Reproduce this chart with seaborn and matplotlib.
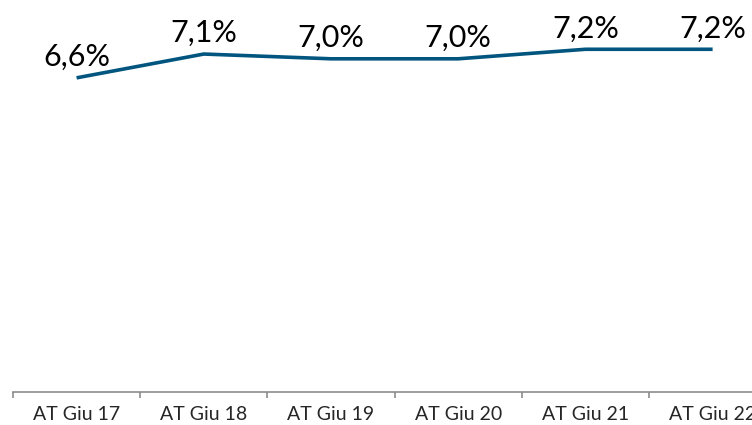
import matplotlib
matplotlib.use("Agg")
import matplotlib.pyplot as plt
import seaborn as sns
import pandas as pd

# Quarterly series
periods = ["AT Giu 17", "AT Giu 18", "AT Giu 19", "AT Giu 20", "AT Giu 21", "AT Giu 22"]
values = [6.6, 7.1, 7.0, 7.0, 7.2, 7.2]

df = pd.DataFrame({"period": periods, "value": values})
df["pos"] = range(len(df))

sns.set_style("white")
plt.rcParams["font.family"] = ["Lato", "DejaVu Sans"]

W, H = 752, 425
fig = plt.figure(figsize=(W / 100, H / 100), dpi=100)
left_px, bottom_px, top_px = 13, 392, 2
slot = 127.2
ax = fig.add_axes([left_px / W, (H - bottom_px) / H,
                   slot * len(periods) / W, (bottom_px - top_px) / H])

line_color = "#02557f"
sns.lineplot(data=df, x="pos", y="value", ax=ax, color=line_color,
             linewidth=2.6, solid_capstyle="butt")

ax.set_xlim(-0.5, len(periods) - 0.5)
ax.set_ylim(0, (bottom_px - top_px) / 47.6)

for x, v in zip(df["pos"], df["value"]):
    ax.annotate(f"{v:.1f}%".replace(".", ","), (x, v), xytext=(0, 5),
                textcoords="offset points", ha="center", va="bottom",
                fontsize=22, color="black")

# Category labels centred in each slot, tick marks on slot boundaries
ax.set_xticks(range(len(periods)))
ax.set_xticklabels(periods, fontsize=14)
ax.set_xticks([i - 0.5 for i in range(len(periods) + 1)], minor=True)
ax.tick_params(axis="x", which="major", bottom=False, length=0, pad=10)
ax.tick_params(axis="x", which="minor", bottom=True, length=4, width=1.2,
               color="#8c8c8c", direction="out")
ax.set_yticks([])
ax.set_xlabel("")
ax.set_ylabel("")

for s in ["top", "right", "left"]:
    ax.spines[s].set_visible(False)
ax.spines["bottom"].set_color("#8c8c8c")
ax.spines["bottom"].set_linewidth(1.2)

fig.savefig("out.png", dpi=100)
